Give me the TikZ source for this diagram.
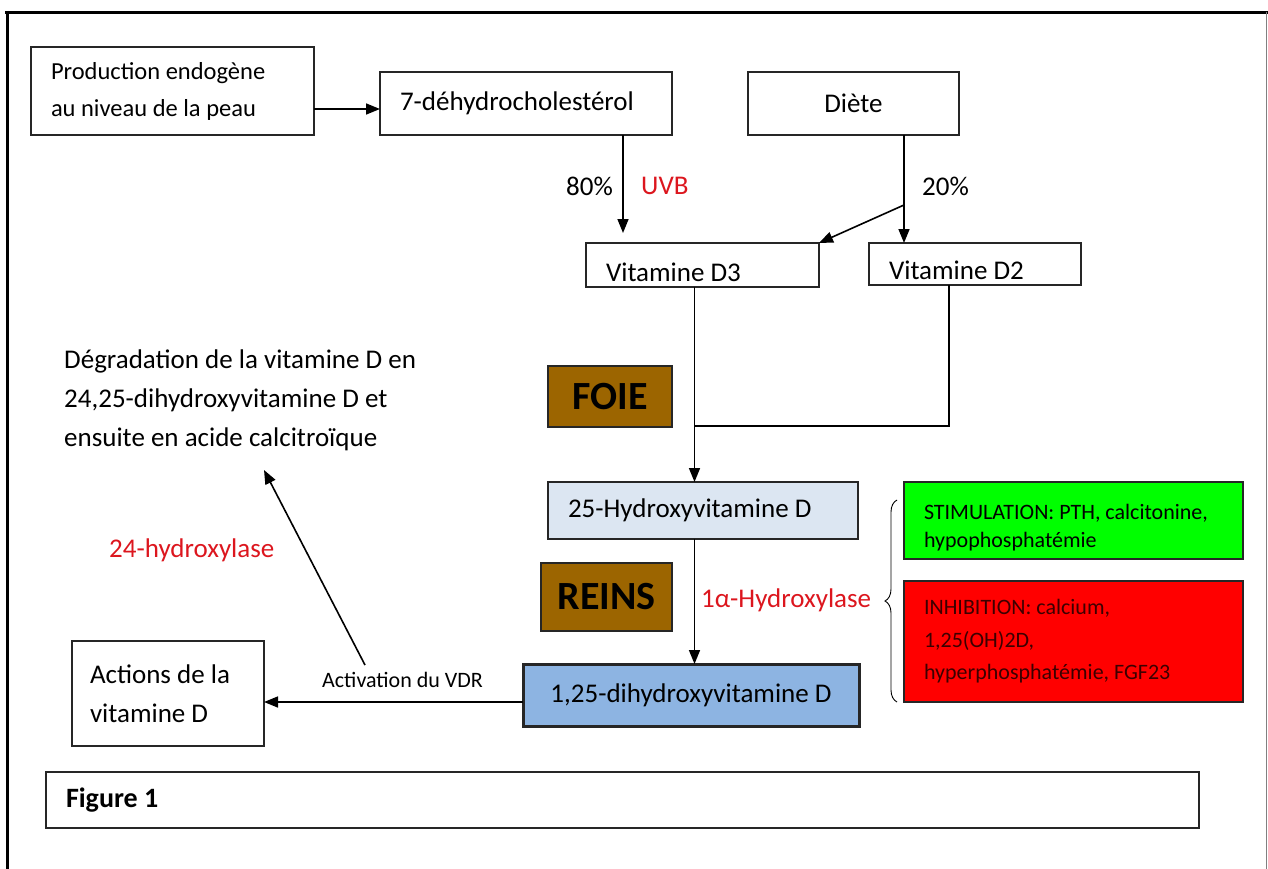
\documentclass[tikz,border=0pt]{standalone}
\usepackage{fontspec}
\setmainfont{Carlito}
\usetikzlibrary{arrows.meta,decorations.pathreplacing,calc}
\definecolor{brn}{RGB}{156,101,0}
\definecolor{lblue}{RGB}{220,230,242}
\definecolor{mblue}{RGB}{141,180,226}
\definecolor{lab}{RGB}{220,22,30}
\definecolor{dred}{RGB}{60,0,0}
\definecolor{grn}{RGB}{0,255,0}
\newcommand{\lowtxt}[2]{\raisebox{-#1}[\height][\depth]{#2}}
\begin{document}
\begin{tikzpicture}[x=1pt,y=-1pt,
  box/.style={draw=black!85, line width=1.6pt, anchor=north west, inner sep=0pt, outer sep=0pt},
  arr/.style={line width=1.6pt, -{Triangle[length=14pt,width=11pt]}},
  ln/.style={line width=1.6pt},
  big/.style={font=\fontsize{27}{39}\selectfont},
  mid/.style={font=\fontsize{22}{28}\selectfont},
  organ/.style={box, fill=brn, font=\fontsize{40}{44}\selectfont\bfseries},
  lbl/.style={inner sep=0pt, font=\fontsize{27}{39}\selectfont}]
\useasboundingbox (0,0) rectangle (1268,869);

% frame
\draw[line width=3pt] (5,12.5) -- (1268,12.5);
\draw[line width=3pt] (7,11) -- (7,869);
\draw[gray, line width=1.2pt] (1266.5,12) -- (1266.5,869);

% boxes
\node[box, minimum width=283pt, minimum height=88pt, text width=243pt, inner xsep=20pt, align=flush left,
      font=\fontsize{24.5}{37}\selectfont] (prod) at (31,47) {Production endogène\\au niveau de la peau};
\node[box, big, minimum width=292pt, minimum height=63pt, text width=252pt, inner xsep=20pt, align=flush left] (dhc) at (380,72) {7-déhydrocholestérol};
\node[box, big, minimum width=211pt, minimum height=63pt] (diete) at (748,72) {Diète};
\node[box, big, minimum width=233pt, minimum height=44pt, text width=193pt, inner xsep=20pt, align=flush left] (d3) at (586,243) {\lowtxt{7pt}{Vitamine D3}};
\node[box, big, minimum width=212pt, minimum height=42pt, text width=172pt, inner xsep=20pt, align=flush left] (d2) at (869,243) {\lowtxt{6pt}{Vitamine D2}};
\node[organ, minimum width=124pt, minimum height=61pt] (foie) at (548,366) {FOIE};
\node[box, big, fill=lblue, minimum width=310pt, minimum height=57pt, text width=270pt, inner xsep=20pt, align=flush left] (oh25) at (548,482) {25-Hydroxyvitamine D};
\node[organ, minimum width=131pt, minimum height=68pt] (reins) at (541,563) {REINS};
\node[box, big, fill=mblue, line width=3pt, minimum width=336pt, minimum height=62pt] (d125) at (523,664) {1,25-dihydroxyvitamine D};
\node[box, big, minimum width=192pt, minimum height=105pt, text width=156pt, inner xsep=18pt, align=flush left] (act) at (72,641) {Actions de la\\vitamine D};
\node[box, mid, fill=grn, minimum width=339pt, minimum height=77pt, text width=299pt, inner xsep=20pt, align=flush left] (stim) at (904,482) {\rule{0pt}{30pt}STIMULATION: PTH, calcitonine,\\hypophosphatémie};
\node[box, fill=red, text=dred, font=\fontsize{22}{32.5}\selectfont, minimum width=339pt, minimum height=121pt, text width=299pt, inner xsep=20pt, align=flush left] (inh) at (904,581) {INHIBITION: calcium,\\1,25(OH)2D,\\hyperphosphatémie, FGF23};
\node[box, font=\fontsize{28}{32}\selectfont\bfseries, minimum width=1153pt, minimum height=56pt, text width=1113pt, inner xsep=20pt, align=flush left] (fig) at (46,772) {Figure 1};

% free text
\node[lbl, anchor=west, align=flush left] (deg) at (64,400) {Dégradation de la vitamine D en\\24,25-dihydroxyvitamine D et\\ensuite en acide calcitroïque};
\node[lbl, anchor=east] (p80) at (613,186) {80\%};
\node[lbl, anchor=west, text=lab] (uvb) at (641,186) {UVB};
\node[lbl, anchor=west] (p20) at (922,186) {20\%};
\node[lbl, anchor=west, text=lab] (h24) at (109,550) {24-hydroxylase};
\node[lbl, anchor=west, text=lab] (h1a) at (701,600) {1α-Hydroxylase};
\node[inner sep=0pt, anchor=west, font=\fontsize{22}{26}\selectfont] (vdrl) at (322,680) {Activation du VDR};

% connectors
\coordinate (p1) at ([yshift=-18pt]prod.east);
\draw[arr] (p1) -- (p1 -| dhc.west);
\coordinate (c80) at ([xshift=97pt]dhc.south);
\draw[arr, shorten >=10pt] (c80) -- (c80 |- d3.north);
\coordinate (c20) at ([xshift=50.5pt]diete.south);
\draw[arr] (c20) -- (c20 |- d2.north);
\coordinate (split) at (904,205);
\draw[arr] (split) -- (d3.north east);
\coordinate (c3) at ([xshift=-8pt]d3.south);
\draw[arr] (c3) -- (c3 |- oh25.north);
\coordinate (c2) at ([xshift=-26pt]d2.south);
\coordinate (jn) at (0,426);
\draw[ln] (c2) -- (c2 |- jn) -- (c3 |- jn);
\draw[arr] (oh25.south -| c3) -- (d125.north -| c3);
\coordinate (c8) at ([yshift=-7pt]d125.west);
\draw[arr] (c8) -- (c8 -| act.east);
\coordinate (vdr) at (365,665);
\coordinate (degtip) at (264,470);
\draw[arr] (vdr) -- (degtip);

% brace
\draw[line width=0.9pt, decorate, decoration={brace, amplitude=12pt}] (897,702) -- (897,500);
\end{tikzpicture}
\end{document}
